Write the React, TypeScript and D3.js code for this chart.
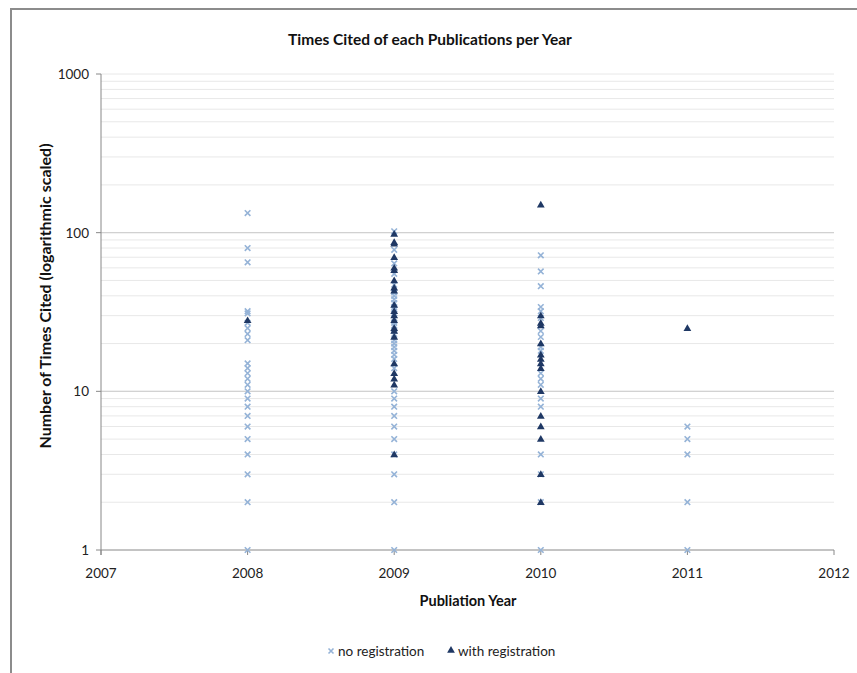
import React from "react";
import * as d3 from "d3";

const titleText = "Times Cited of each Publications per Year";
const xAxisTitle = "Publiation Year";
const yAxisTitle = "Number of Times Cited (logarithmic scaled)";
const xTicks = [2007, 2008, 2009, 2010, 2011, 2012];
const yTicks = [1, 10, 100, 1000];

const noReg2008 = [133, 80, 65, 32, 31, 27, 25, 23, 21, 15, 14, 13, 12, 11, 10, 9, 8, 7, 6, 5, 4, 3, 2, 1];
const noReg2009 = [102, 78, 64, 55, 47, 42, 40, 38, 36, 34, 33, 31, 29, 27, 26, 24, 23, 21, 20, 19, 18, 17, 16, 14, 10, 9, 8, 7, 6, 5, 4, 3, 2, 1];
const noReg2010 = [72, 57, 46, 34, 32, 29, 24, 22, 19, 18, 13, 12, 11, 9, 8, 4, 3, 2, 1];
const noReg2011 = [6, 5, 4, 2, 1];

const withReg2008 = [28];
const withReg2009 = [98, 87, 85, 70, 60, 58, 50, 45, 43, 35, 32, 30, 28, 25, 24, 22, 15, 13, 12, 11, 4];
const withReg2010 = [150, 30, 27, 26, 20, 17, 16, 15, 14, 10, 7, 6, 5, 3, 2];
const withReg2011 = [25];

const noRegSeries = [
  { year: 2008, values: noReg2008 },
  { year: 2009, values: noReg2009 },
  { year: 2010, values: noReg2010 },
  { year: 2011, values: noReg2011 },
];
const withRegSeries = [
  { year: 2008, values: withReg2008 },
  { year: 2009, values: withReg2009 },
  { year: 2010, values: withReg2010 },
  { year: 2011, values: withReg2011 },
];

const FONT = "Lato, 'Open Sans', sans-serif";
const LIGHT = "#95b3d7";
const DARK = "#1f3864";

function XMark({ x, y, s = 2.8 }: { x: number; y: number; s?: number }) {
  return (
    <path
      d={`M${x - s},${y - s}L${x + s},${y + s}M${x - s},${y + s}L${x + s},${y - s}`}
      stroke={LIGHT}
      strokeWidth={1.6}
      fill="none"
    />
  );
}

function TriMark({ x, y }: { x: number; y: number }) {
  const p = d3.symbol().type(d3.symbolTriangle).size(26)();
  return <path d={p || ""} transform={`translate(${x},${y + 0.5})`} fill={DARK} />;
}

export default function App() {
  const W = 857;
  const H = 673;
  const left = 101;
  const right = 834;
  const top = 74;
  const bottom = 550;
  const x = d3.scaleLinear().domain([2007, 2012]).range([left, right]);
  const y = d3.scaleLog().domain([1, 1000]).range([bottom, top]);

  const grid: { v: number; major: boolean }[] = [];
  [1, 10, 100].forEach((dec) => {
    for (let k = 1; k <= 10; k++) {
      const v = dec * k;
      if (v === 1) continue;
      grid.push({ v, major: k === 1 || k === 10 });
    }
  });

  return (
    <svg
      width={W}
      height={H}
      style={{ position: "absolute", left: 0, top: 0, background: "#fff" }}
      fontFamily={FONT}
    >
      <rect x={0} y={0} width={W} height={H} fill="#fff" />
      {/* frame */}
      <path d={`M11,${H}L11,9L${W},9`} stroke="#8c8c8c" strokeWidth={2} fill="none" />

      {/* gridlines */}
      {grid.map((g, i) => (
        <line
          key={i}
          x1={left}
          x2={right}
          y1={y(g.v)}
          y2={y(g.v)}
          stroke={g.major && g.v !== 1000 ? "#d0d0d0" : "#e8e8e8"}
          strokeWidth={1}
        />
      ))}

      {/* axes */}
      <line x1={left} x2={left} y1={top} y2={bottom + 5} stroke="#888" strokeWidth={1} />
      <line x1={left} x2={right} y1={bottom} y2={bottom} stroke="#888" strokeWidth={1} />
      {xTicks.map((t) => (
        <g key={t}>
          <line x1={x(t)} x2={x(t)} y1={bottom} y2={bottom + 5} stroke="#888" />
          <text x={x(t)} y={bottom + 28} textAnchor="middle" fontSize={13.5} fill="#222">
            {t}
          </text>
        </g>
      ))}
      {yTicks.map((t) => (
        <g key={t}>
          <line x1={left - 5} x2={left} y1={y(t)} y2={y(t)} stroke="#888" />
          <text x={left - 12} y={y(t) + 5} textAnchor="end" fontSize={13.5} fill="#222">
            {t}
          </text>
        </g>
      ))}

      {/* points */}
      {noRegSeries.map((s) =>
        s.values.map((v, i) => <XMark key={`n${s.year}-${i}`} x={x(s.year)} y={y(v)} />)
      )}
      {withRegSeries.map((s) =>
        s.values.map((v, i) => <TriMark key={`w${s.year}-${i}`} x={x(s.year)} y={y(v)} />)
      )}

      {/* titles */}
      <text x={430} y={45} textAnchor="middle" fontSize={15.5} fontWeight="bold" fill="#111">
        {titleText}
      </text>
      <text x={468} y={606} textAnchor="middle" fontSize={14.5} fontWeight="bold" fill="#111">
        {xAxisTitle}
      </text>
      <text
        transform={`translate(51,296) rotate(-90)`}
        textAnchor="middle"
        fontSize={16}
        fontWeight="bold"
        fill="#111"
      >
        {yAxisTitle}
      </text>

      {/* legend */}
      <XMark x={331} y={651} s={2.5} />
      <text x={338} y={656} fontSize={13.5} fill="#222">no registration</text>
      <TriMark x={451} y={650} />
      <text x={458} y={656} fontSize={13.5} fill="#222">with registration</text>
    </svg>
  );
}
